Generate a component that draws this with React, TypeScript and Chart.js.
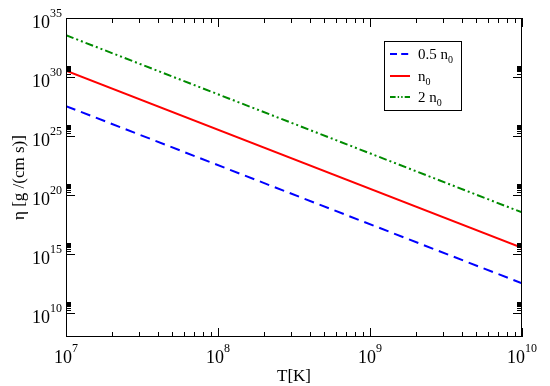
import React, { useEffect, useRef } from "react";
import { Chart, registerables } from "chart.js";

Chart.register(...registerables);

// ---- data ----
const temperatures = [1e7, 1e10];
const etaHalfN0 = [3.5e27, 3.5e12];
const etaN0 = [3.5e30, 3.5e15];
const etaTwoN0 = [3.5e33, 3.5e18];

const xTickExponents = [7, 8, 9, 10];
const yTickExponents = [10, 15, 20, 25, 30, 35];
const legendPrefixes = ["0.5 n", "n", "2 n"];
const legendSubscript = "0";
const xTitle = "T[K]";
const yTitle = "η [g /(cm s)]";

const BLUE = "#0000ff";
const RED = "#ff0000";
const GREEN = "#008b00";
const FONT = '"Liberation Serif", "DejaVu Serif", serif';

const seriesStyles = [
  { color: BLUE, dash: [10, 6] },
  { color: RED, dash: [] as number[] },
  { color: GREEN, dash: [8, 3, 2, 3, 2, 3] },
];

const overlayPlugin = {
  id: "xmgraceOverlay",
  afterDraw(chart: any) {
    const ctx: CanvasRenderingContext2D = chart.ctx;
    const area = chart.chartArea;
    const xs = chart.scales.x;
    const ys = chart.scales.y;
    ctx.save();
    ctx.strokeStyle = "#000";
    ctx.fillStyle = "#000";
    ctx.lineWidth = 1;
    // frame
    ctx.strokeRect(area.left + 0.5, area.top + 0.5, area.right - area.left - 1, area.bottom - area.top - 1);

    const line = (x1: number, y1: number, x2: number, y2: number) => {
      ctx.beginPath();
      ctx.moveTo(x1, y1);
      ctx.lineTo(x2, y2);
      ctx.stroke();
    };

    // x ticks (bottom + top), inward
    for (let e = xTickExponents[0]; e <= xTickExponents[xTickExponents.length - 1]; e++) {
      for (let k = 1; k <= 9; k++) {
        const v = k * Math.pow(10, e);
        if (v < xs.min || v > xs.max) continue;
        const px = Math.round(xs.getPixelForValue(v)) + 0.5;
        const len = k === 1 ? 9 : 5;
        line(px, area.bottom, px, area.bottom - len);
        line(px, area.top, px, area.top + len);
      }
    }
    // y ticks (left + right), inward; majors every 5 decades, minors in decade above
    for (const e of yTickExponents) {
      const py = Math.round(ys.getPixelForValue(Math.pow(10, e))) + 0.5;
      line(area.left, py, area.left + 9, py);
      line(area.right, py, area.right - 9, py);
      for (let k = 2; k <= 9; k++) {
        const v = k * Math.pow(10, e);
        if (v > ys.max) continue;
        const my = Math.round(ys.getPixelForValue(v)) + 0.5;
        line(area.left, my, area.left + 5, my);
        line(area.right, my, area.right - 5, my);
      }
    }

    // tick labels
    const baseFont = `18px ${FONT}`;
    const expFont = `12px ${FONT}`;
    ctx.textBaseline = "alphabetic";
    for (const e of xTickExponents) {
      const px = xs.getPixelForValue(Math.pow(10, e));
      ctx.font = baseFont;
      const w1 = ctx.measureText("10").width;
      ctx.font = expFont;
      const w2 = ctx.measureText(String(e)).width;
      const start = px - (w1 + w2) / 2;
      ctx.textAlign = "left";
      ctx.font = baseFont;
      ctx.fillText("10", start, area.bottom + 26);
      ctx.font = expFont;
      ctx.fillText(String(e), start + w1, area.bottom + 15);
    }
    for (const e of yTickExponents) {
      const py = ys.getPixelForValue(Math.pow(10, e));
      ctx.font = expFont;
      const w2 = ctx.measureText(String(e)).width;
      const right = area.left - 4;
      ctx.textAlign = "right";
      ctx.fillText(String(e), right, py - 1.5);
      ctx.font = baseFont;
      ctx.fillText("10", right - w2, py + 9.5);
    }

    // axis titles
    ctx.font = `17px ${FONT}`;
    ctx.textAlign = "center";
    ctx.textBaseline = "middle";
    ctx.fillText(xTitle, (area.left + area.right) / 2, area.bottom + 40);
    ctx.save();
    ctx.translate(20, (area.top + area.bottom) / 2);
    ctx.rotate(-Math.PI / 2);
    ctx.fillText(yTitle, 0, 0);
    ctx.restore();

    // legend
    const lx = 384, ly = 41, lw = 77, lh = 69;
    ctx.fillStyle = "#fff";
    ctx.fillRect(lx, ly, lw, lh);
    ctx.strokeStyle = "#000";
    ctx.lineWidth = 1;
    ctx.strokeRect(lx + 0.5, ly + 0.5, lw, lh);
    const rows = [54, 76, 97];
    legendPrefixes.forEach((label, i) => {
      const st = seriesStyles[i];
      ctx.strokeStyle = st.color;
      ctx.lineWidth = 2;
      ctx.setLineDash(st.dash.map((d) => d * 0.7));
      line(390, rows[i], 410, rows[i]);
      ctx.setLineDash([]);
      ctx.fillStyle = "#000";
      ctx.textAlign = "left";
      ctx.textBaseline = "alphabetic";
      ctx.font = `15px ${FONT}`;
      ctx.fillText(label, 418, rows[i] + 5);
      const w = ctx.measureText(label).width;
      ctx.font = `10px ${FONT}`;
      ctx.fillText(legendSubscript, 418 + w, rows[i] + 9);
    });
    ctx.restore();
  },
};

export default function App() {
  const ref = useRef<HTMLCanvasElement>(null);
  useEffect(() => {
    if (!ref.current) return;
    const mk = (vals: number[]) => temperatures.map((t, i) => ({ x: t, y: vals[i] }));
    const chart = new Chart(ref.current, {
      type: "line",
      data: {
        datasets: [etaHalfN0, etaN0, etaTwoN0].map((vals, i) => ({
          label: legendPrefixes[i] + legendSubscript,
          data: mk(vals),
          borderColor: seriesStyles[i].color,
          borderDash: seriesStyles[i].dash,
          borderWidth: 2,
          pointRadius: 0,
          fill: false,
          tension: 0,
        })),
      },
      options: {
        animation: false,
        responsive: false,
        maintainAspectRatio: false,
        layout: { padding: { left: 66, top: 18, right: 28, bottom: 49 } },
        plugins: { legend: { display: false }, tooltip: { enabled: false } },
        scales: {
          x: { type: "logarithmic", min: 1e7, max: 1e10, display: false },
          y: { type: "logarithmic", min: 1e8, max: 1e35, display: false },
        },
      },
      plugins: [overlayPlugin],
    });
    return () => chart.destroy();
  }, []);
  return (
    <div style={{ position: "fixed", left: 0, top: 0, width: 550, height: 386, background: "#fff" }}>
      <canvas ref={ref} width={550} height={386} style={{ width: 550, height: 386, display: "block" }} />
    </div>
  );
}
